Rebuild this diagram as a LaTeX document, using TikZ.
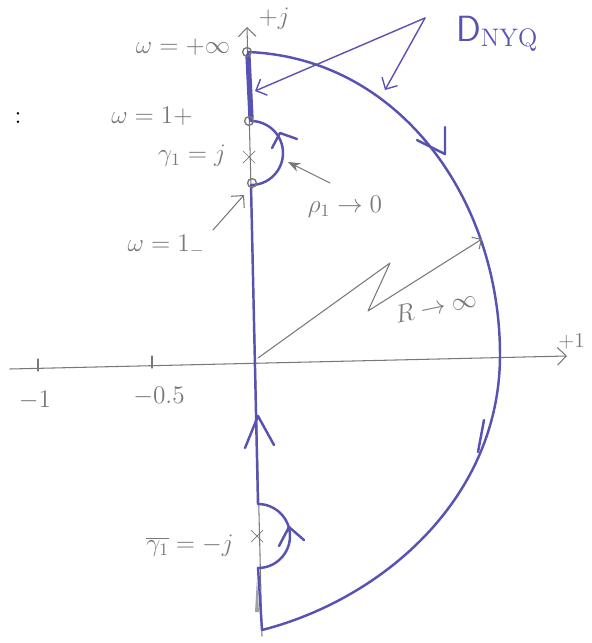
\documentclass[tikz,border=0pt]{standalone}
\usetikzlibrary{arrows.meta}
\definecolor{ink}{RGB}{88,82,178}
\definecolor{pencil}{RGB}{120,120,120}
\begin{document}
\begin{tikzpicture}[x=0.02cm, y=-0.02cm, line cap=round, line join=round,
	contour/.style={ink, line width=1.4pt},
	pencilline/.style={pencil, line width=0.6pt},
	barb/.style={-{Straight Barb[length=5pt,width=10pt]}},
	lbl/.style={pencil, font=\Large}]
	\useasboundingbox (0,0) rectangle (592,643);

	% Achsen (Bleistift)
	\draw[pencilline, barb] (10,369) -- (567,356);
	\draw[pencilline, barb] (262,636) -- (247,27);
	\draw[pencilline] (38,359) -- (38,371);
	\draw[pencilline] (152,356) -- (152,368);

	% Kontur D_NYQ: Achse mit zwei Umwegen + grosser Bogen
	\draw[contour] (262,630) -- (258,568)
		arc[start angle=-90, end angle=90, radius=0.64cm] -- (251,185)
		arc[start angle=-90, end angle=90, radius=0.64cm] -- (248,52)
		.. controls (400,58) and (500,200) .. (500,355)
		.. controls (500,500) and (380,600) .. (262,630);
	\draw[ink, line width=3pt] (248,56) -- (251,118);

	% Richtungspfeile auf der Kontur
	\draw[contour] (245,448) -- (258,416) -- (274,445);
	\draw[contour] (279,546) -- (289,527) -- (304,540);
	\draw[contour] (272,148) -- (280,133) -- (297,139);
	\draw[contour] (417,140) -- (445,154) -- (445,127);
	\draw[contour] (484,420) -- (478,452);
	\fill[pencil!70] (257,578) -- (259,612) -- (255,612) -- cycle;

	% Punkte und Pole
	\draw[pencil, line width=0.8pt] (247,52) circle[radius=2.5pt];
	\draw[pencil, line width=0.8pt] (249,121) circle[radius=2.5pt];
	\draw[pencil, line width=0.8pt] (252,183) circle[radius=2.5pt];
	\draw[pencil] (243,151) -- (255,163) (243,163) -- (255,151);
	\draw[pencil] (251,530) -- (263,542) (251,542) -- (263,530);

	% Beschriftungen
	\node[lbl] (winf) at (183,47) {$\omega=+\infty$};
	\node[lbl] (jlab) at (274,19) {$+j$};
	\node[lbl] (wplus) at (152,116) {$\omega=1+$};
	\node[lbl] (gam) at (192,156) {$\gamma_1=j$};
	\node[lbl] (rho) at (345,207) {$\rho_1\to0$};
	\node[lbl] (wminus) at (166,246) {$\omega=1_-$};
	\node[lbl, rotate=12] (rinf) at (436,306) {$R\to\infty$};
	\node[lbl] (mone) at (35,400) {$-1$};
	\node[lbl] (mhalf) at (159,396) {$-0.5$};
	\node[pencil, font=\large, anchor=east] (pone) at (591,342) {$+1$};
	\node[lbl] (gambar) at (190,546) {$\overline{\gamma_1}=-j$};
	\node[font=\Large] (colon) at (18,118) {:};
	\node[ink, font=\huge\sffamily, anchor=west] (dnyq) at (450,34) {D$_{\mathrm{NYQ}}$};

	% Zeiger
	\coordinate (p) at (425,18);
	\draw[ink, line width=0.8pt, barb] (p) -- (255,91);
	\draw[ink, line width=0.8pt, barb] (p) -- (385,90);
	\draw[pencilline, -{Stealth[length=7pt]}] (330,183) -- (288,162);
	\draw[pencilline, barb] (213,230) -- (244,195);
	\draw[pencilline, -{Straight Barb[length=4pt,width=8pt]}] (258,358) -- (390,263) -- (368,311) -- (482,239);
\end{tikzpicture}
\end{document}
